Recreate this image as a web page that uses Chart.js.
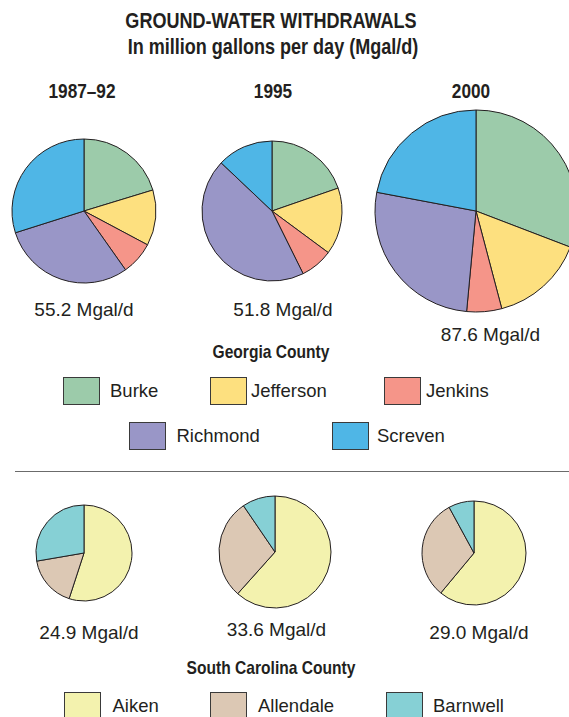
<!DOCTYPE html>
<html>
<head>
<meta charset="utf-8">
<script src="https://cdn.jsdelivr.net/npm/chart.js@4.4.1/dist/chart.umd.min.js"></script>
<style>
  html, body { margin: 0; padding: 0; background: #fff; overflow: hidden; }
  #page { position: relative; width: 569px; height: 717px; overflow: hidden; color: #231f20; }
  .t { position: absolute; transform: translate(-50%, -50%); white-space: nowrap; }
  .hd { font-family: "Liberation Sans", Arial, sans-serif; font-weight: bold; transform: translate(-50%, -50%) scaleX(0.82); }
  .lbl { font-family: "Liberation Sans", Arial, sans-serif; font-size: 19px; }
  .pie { position: absolute; }
  .box { position: absolute; width: 35px; height: 26px; border: 1.5px solid #3a3a3a; }
  .key { position: absolute; font-family: "Liberation Sans", Arial, sans-serif; font-size: 18.5px; transform: translateY(-50%); white-space: nowrap; }
  .rule { position: absolute; left: 15px; top: 471px; width: 560px; height: 0; border-top: 1.5px solid #6b6b6b; }
</style>
</head>
<body>
<div id="page">
  <div class="t hd" style="left:271px; top:21px; font-size:22px;">GROUND-WATER WITHDRAWALS</div>
  <div class="t hd" style="left:273px; top:47px; font-size:22px;">In million gallons per day (Mgal/d)</div>
  <div class="t hd" style="left:271px; top:352px; font-size:19px;">Georgia County</div>
  <div class="rule"></div>
  <div class="t hd" style="left:271px; top:668px; font-size:19px;">South Carolina County</div>
</div>
<script>
// time periods
var periods = ['1987\u201392', '1995', '2000'];

// Georgia counties, Mgal/d
var gaCounties = ['Burke', 'Jefferson', 'Jenkins', 'Richmond', 'Screven'];
var ga1987 = [11.2, 6.9, 4.1, 16.5, 16.5];
var ga1995 = [10.2, 8.0, 3.9, 23.0, 6.7];
var ga2000 = [27.0, 13.2, 4.9, 23.2, 19.3];
var gaTotals = ['55.2 Mgal/d', '51.8 Mgal/d', '87.6 Mgal/d'];

// South Carolina counties, Mgal/d
var scCounties = ['Aiken', 'Allendale', 'Barnwell'];
var sc1987 = [13.7, 4.3, 6.9];
var sc1995 = [20.7, 9.7, 3.2];
var sc2000 = [17.7, 9.0, 2.3];
var scTotals = ['24.9 Mgal/d', '33.6 Mgal/d', '29.0 Mgal/d'];

var gaColors = ['#9ccbaa', '#fde07f', '#f59589', '#9996c7', '#4fb6e6'];
var scColors = ['#f3f2ae', '#dcc8b4', '#86d0d5'];

var page = document.getElementById('page');

function addText(cls, txt, x, y, size) {
    var d = document.createElement('div');
    d.className = cls;
    d.textContent = txt;
    d.style.left = x + 'px';
    d.style.top = y + 'px';
    if (size) d.style.fontSize = size + 'px';
    page.appendChild(d);
}

// year headings
var yearX = [82, 273, 471];
periods.forEach(function(p, i) { addText('t hd', p, yearX[i], 91, 21); });

// pies: centre x, centre y, radius
var pies = [
    { data: ga1987, labels: gaCounties, colors: gaColors, cx: 83.5, cy: 210.5, r: 72, total: gaTotals[0], tx: 84, ty: 310 },
    { data: ga1995, labels: gaCounties, colors: gaColors, cx: 271.5, cy: 211, r: 70, total: gaTotals[1], tx: 283, ty: 310 },
    { data: ga2000, labels: gaCounties, colors: gaColors, cx: 475.5, cy: 210.5, r: 101, total: gaTotals[2], tx: 490.5, ty: 335 },
    { data: sc1987, labels: scCounties, colors: scColors, cx: 83.5, cy: 552.5, r: 48, total: scTotals[0], tx: 89, ty: 633 },
    { data: sc1995, labels: scCounties, colors: scColors, cx: 274.7, cy: 552, r: 56, total: scTotals[1], tx: 276.5, ty: 630 },
    { data: sc2000, labels: scCounties, colors: scColors, cx: 474.2, cy: 552.5, r: 52, total: scTotals[2], tx: 479, ty: 633 }
];

pies.forEach(function(p) {
    var size = Math.ceil(p.r) * 2 + 6;
    var c = document.createElement('canvas');
    c.className = 'pie';
    c.width = size;
    c.height = size;
    c.style.left = (p.cx - size / 2) + 'px';
    c.style.top = (p.cy - size / 2) + 'px';
    page.appendChild(c);
    new Chart(c.getContext('2d'), {
        type: 'pie',
        data: {
            labels: p.labels,
            datasets: [{
                data: p.data,
                backgroundColor: p.colors,
                borderColor: '#231f20',
                borderWidth: 1
            }]
        },
        options: {
            responsive: false,
            animation: false,
            radius: p.r,
            layout: { padding: 0 },
            plugins: { legend: { display: false }, tooltip: { enabled: false } }
        }
    });
    addText('t lbl', p.total, p.tx, p.ty);
});

// legends
function addKey(label, color, bx, by, tx) {
    var b = document.createElement('div');
    b.className = 'box';
    b.style.left = bx + 'px';
    b.style.top = by + 'px';
    b.style.background = color;
    page.appendChild(b);
    var k = document.createElement('div');
    k.className = 'key';
    k.textContent = label;
    k.style.left = tx + 'px';
    k.style.top = (by + 14) + 'px';
    page.appendChild(k);
}
var gaKeyPos = [[63, 377, 110], [209.5, 377, 251], [383.5, 377, 426], [128.5, 422, 176.5], [332, 422, 377]];
gaCounties.forEach(function(n, i) { addKey(n, gaColors[i], gaKeyPos[i][0], gaKeyPos[i][1], gaKeyPos[i][2]); });
var scKeyPos = [[64, 692, 112.5], [210, 692, 258], [386, 692, 433]];
scCounties.forEach(function(n, i) { addKey(n, scColors[i], scKeyPos[i][0], scKeyPos[i][1], scKeyPos[i][2]); });
</script>
</body>
</html>
